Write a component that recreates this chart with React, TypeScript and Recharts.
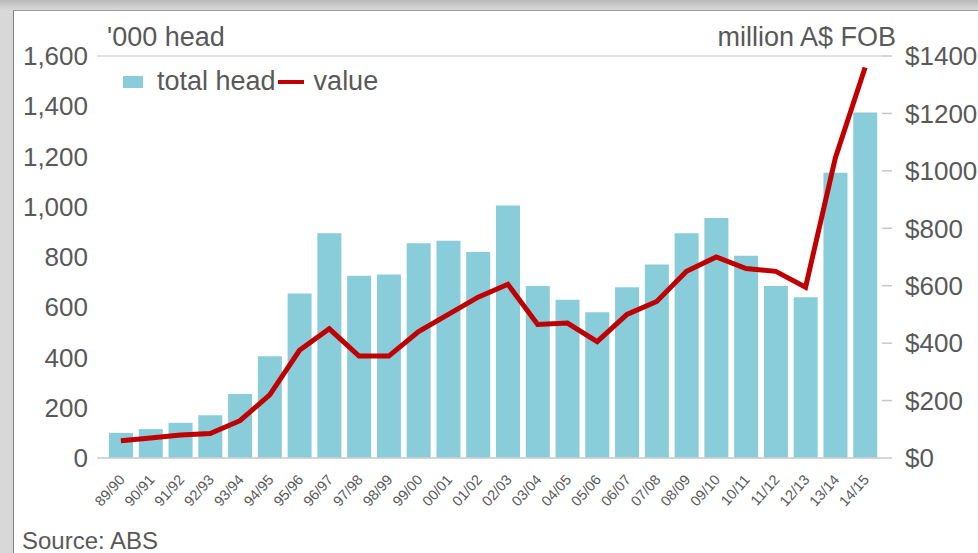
import { ComposedChart, Bar, Line, XAxis, YAxis, CartesianGrid } from 'recharts'

const years = [
  '89/90', '90/91', '91/92', '92/93', '93/94', '94/95', '95/96', '96/97', '97/98',
  '98/99', '99/00', '00/01', '01/02', '02/03', '03/04', '04/05', '05/06', '06/07',
  '07/08', '08/09', '09/10', '10/11', '11/12', '12/13', '13/14', '14/15',
]
const totalHead = [
  100, 115, 140, 170, 255, 405, 655, 895, 725, 730, 855, 865, 820, 1005, 685, 630,
  580, 680, 770, 895, 955, 805, 685, 640, 1135, 1375,
]
const value = [
  60, 70, 80, 85, 130, 220, 375, 450, 355, 355, 440, 500, 560, 605, 465, 470, 405,
  500, 545, 650, 700, 660, 650, 595, 1045, 1360,
]
const headTicks = [0, 200, 400, 600, 800, 1000, 1200, 1400, 1600]
const valueTicks = [0, 200, 400, 600, 800, 1000, 1200, 1400]

const data = years.map((year, i) => ({ year, totalHead: totalHead[i], value: value[i] }))

const font = '"Liberation Sans", Arial, sans-serif'
const grey = '#595959'
const barColor = '#89CCDA'
const lineColor = '#C00000'

function YearTick(props: any) {
  const { x, y, payload } = props
  const ax = x + 1
  const ay = y + 11
  return (
    <text
      x={ax}
      y={ay}
      transform={`rotate(-48 ${ax} ${ay})`}
      textAnchor="end"
      dominantBaseline="central"
      fontSize={14.5}
      fill={grey}
      fontFamily={font}
    >
      {payload.value}
    </text>
  )
}

export default function App() {
  return (
    <div
      style={{
        position: 'absolute',
        left: 0,
        top: 0,
        width: 978,
        height: 553,
        overflow: 'hidden',
        background: 'linear-gradient(180deg, #b8b8b8 0px, #d8d8d8 10px, #d8d8d8 100%)',
        fontFamily: font,
      }}
    >
      <div
        style={{
          position: 'absolute',
          left: 13,
          top: 10,
          width: 990,
          height: 560,
          background: '#fff',
          borderLeft: '1px solid #808080',
          borderTop: '1px solid #9a9a9a',
        }}
      />
      <div style={{ position: 'absolute', left: 0, top: 0 }}>
        <ComposedChart
          width={978}
          height={553}
          data={data}
          margin={{ top: 56, right: 0, bottom: 35, left: 0 }}
        >
          <CartesianGrid vertical={false} stroke="#d9d9d9" strokeWidth={1.5} />
          <XAxis
            dataKey="year"
            interval={0}
            height={60}
            tick={<YearTick />}
            tickLine={false}
            axisLine={{ stroke: '#d0d0d0', strokeWidth: 1.5 }}
            padding={{ left: 9, right: 2 }}
          />
          <YAxis
            yAxisId="head"
            domain={[0, 1600]}
            ticks={headTicks}
            width={97}
            axisLine={false}
            tickLine={false}
            tickSize={0}
            tickMargin={9}
            tickFormatter={(v: number) => v.toLocaleString('en-US')}
            tick={{ fontSize: 26, fill: grey, fontFamily: font }}
          />
          <YAxis
            yAxisId="value"
            orientation="right"
            domain={[0, 1400]}
            ticks={valueTicks}
            width={96}
            axisLine={false}
            tickLine={{ stroke: '#c8c8c8', strokeWidth: 1.5 }}
            tickSize={10}
            tickMargin={13}
            tickFormatter={(v: number) => `$${v}`}
            tick={{ fontSize: 26, fill: grey, fontFamily: font }}
          />
          <Bar
            yAxisId="head"
            dataKey="totalHead"
            fill={barColor}
            barSize={24}
            isAnimationActive={false}
          />
          <Line
            yAxisId="value"
            dataKey="value"
            type="linear"
            stroke={lineColor}
            strokeWidth={5}
            dot={false}
            isAnimationActive={false}
          />
        </ComposedChart>
      </div>
      <div style={{ position: 'absolute', left: 107, top: 22, fontSize: 27, color: grey }}>
        '000 head
      </div>
      <div style={{ position: 'absolute', right: 82, top: 22, fontSize: 27, color: grey }}>
        million A$ FOB
      </div>
      <div
        style={{
          position: 'absolute',
          left: 123,
          top: 66,
          display: 'flex',
          alignItems: 'center',
          fontSize: 27,
          color: grey,
        }}
      >
        <span style={{ width: 20, height: 12, background: barColor, marginRight: 14 }} />
        <span>total head</span>
        <span style={{ width: 26, height: 4, background: lineColor, marginLeft: 2, marginRight: 10 }} />
        <span>value</span>
      </div>
      <div style={{ position: 'absolute', left: 22, top: 527, fontSize: 24, color: grey }}>
        Source: ABS
      </div>
    </div>
  )
}
